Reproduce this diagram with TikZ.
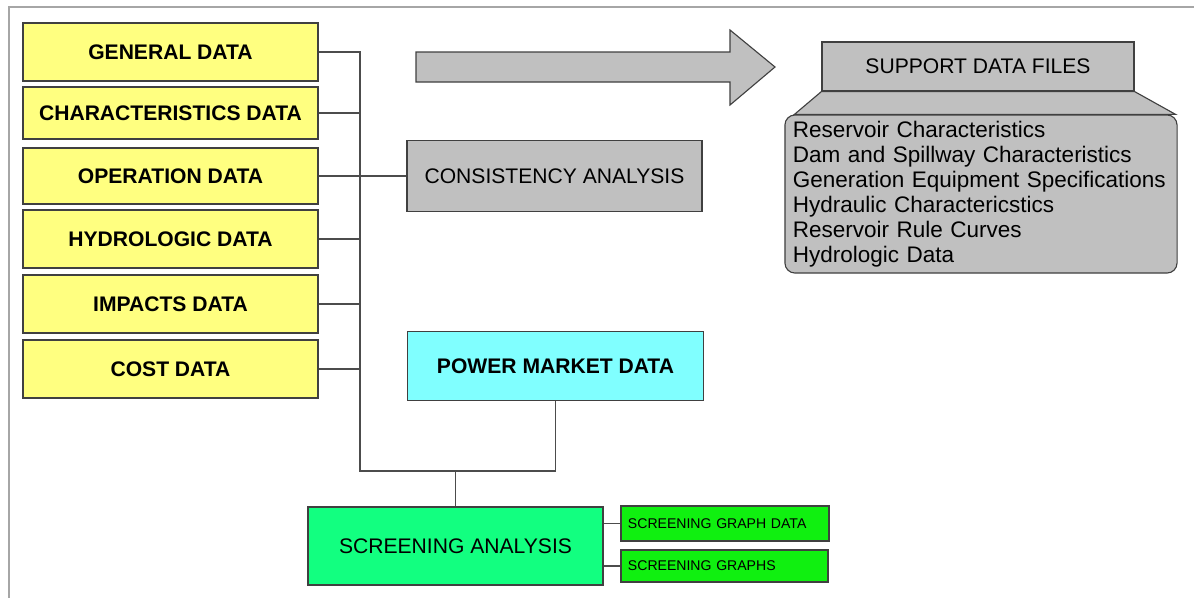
\documentclass[tikz,border=0pt]{standalone}
\usepackage{fontspec}
\setmainfont{Liberation Sans}
\usetikzlibrary{calc}
\definecolor{yellowbox}{HTML}{FFFF80}
\definecolor{graybox}{HTML}{C0C0C0}
\definecolor{cyanbox}{HTML}{80FFFF}
\definecolor{greenbox}{HTML}{12FF80}
\definecolor{limebox}{HTML}{10F010}

\begin{document}
\begin{tikzpicture}[
    x=0.025cm, y=-0.025cm,
    font=\fontsize{15}{18}\selectfont,
    box/.style={draw=black!75, line width=0.8pt, inner sep=0pt, align=center},
    datbox/.style={box, fill=yellowbox, minimum width=7.375cm, font=\fontsize{15}{18}\selectfont\bfseries},
    greybox/.style={box, fill=graybox},
    outbox/.style={box, fill=limebox, inner xsep=0.175cm, align=left, font=\fontsize{10}{12}\selectfont},
    link/.style={draw=black!70, line width=0.9pt}
  ]
  \useasboundingbox (0,0) rectangle (1194,598);
  \draw[black!35, line width=1.4pt] (1194,7) -- (9,7) -- (9,598);

  \node[datbox, minimum height=1.45cm] (gen) at (170.5,52) {GENERAL DATA};
  \node[datbox, minimum height=1.3cm] (char) at (170.5,113) {CHARACTERISTICS DATA};
  \node[datbox, minimum height=1.4cm] (oper) at (170.5,176) {OPERATION DATA};
  \node[datbox, minimum height=1.45cm] (hydro) at (170.5,239) {HYDROLOGIC DATA};
  \node[datbox, minimum height=1.45cm] (imp) at (170.5,304) {IMPACTS DATA};
  \node[datbox, minimum height=1.45cm] (cost) at (170.5,369) {COST DATA};

  \node[greybox, minimum width=7.375cm, minimum height=1.775cm] (cons) at (554.5,176) {CONSISTENCY ANALYSIS};
  \node[box, fill=cyanbox, minimum width=7.4cm, minimum height=1.725cm, font=\fontsize{15}{18}\selectfont\bfseries] (pmd) at (555.5,366) {POWER MARKET DATA};
  \node[box, fill=greenbox, minimum width=7.375cm, minimum height=1.95cm] (scr) at (455.5,546) {SCREENING ANALYSIS};
  \node[outbox, text width=4.85cm, minimum height=0.875cm] (sgd) at (725,523.5) {SCREENING GRAPH DATA};
  \node[outbox, text width=4.825cm, minimum height=0.8cm] (sg) at (724.5,566) {SCREENING GRAPHS};

  \coordinate (busbot) at (360,471);
  \draw[link] (gen.east) -| (busbot) -- (busbot -| pmd.south) -- (pmd.south);
  \foreach \b in {char,hydro,imp,cost}
    \draw[link] (\b.east) -- (\b.east -| busbot);
  \draw[link] (oper) -- (cons);
  \draw[link] (scr.north) -- (scr.north |- busbot);
  \draw[link] (sgd.west) -- (sgd.west -| scr.east);
  \draw[link] (sg.west) -- (sg.west -| scr.east);

  \draw[greybox] (416,52) -- (730,52) -- (730,30) -- (775,67) -- (730,105) -- (730,82) -- (416,82) -- cycle;

  \node[greybox, minimum width=7.8cm, minimum height=1.225cm] (sdf) at (978,66.5) {SUPPORT DATA FILES};
  \node[greybox, rounded corners=0.25cm, inner xsep=0.2cm, text width=9.4cm, minimum height=3.95cm, align=left,
        font=\fontsize{16}{17.8}\selectfont] (sfl) at (981,194)
    {Reservoir Characteristics\\Dam and Spillway Characteristics\\Generation Equipment Specifications\\Hydraulic Charactericstics\\Reservoir Rule Curves\\Hydrologic Data};
  \draw[greybox] (sdf.south west) -- ($(sfl.north west)+(10,0)$) -- ($(sfl.north east)+(-2,0)$) -- (sdf.south east) -- cycle;
\end{tikzpicture}
\end{document}
